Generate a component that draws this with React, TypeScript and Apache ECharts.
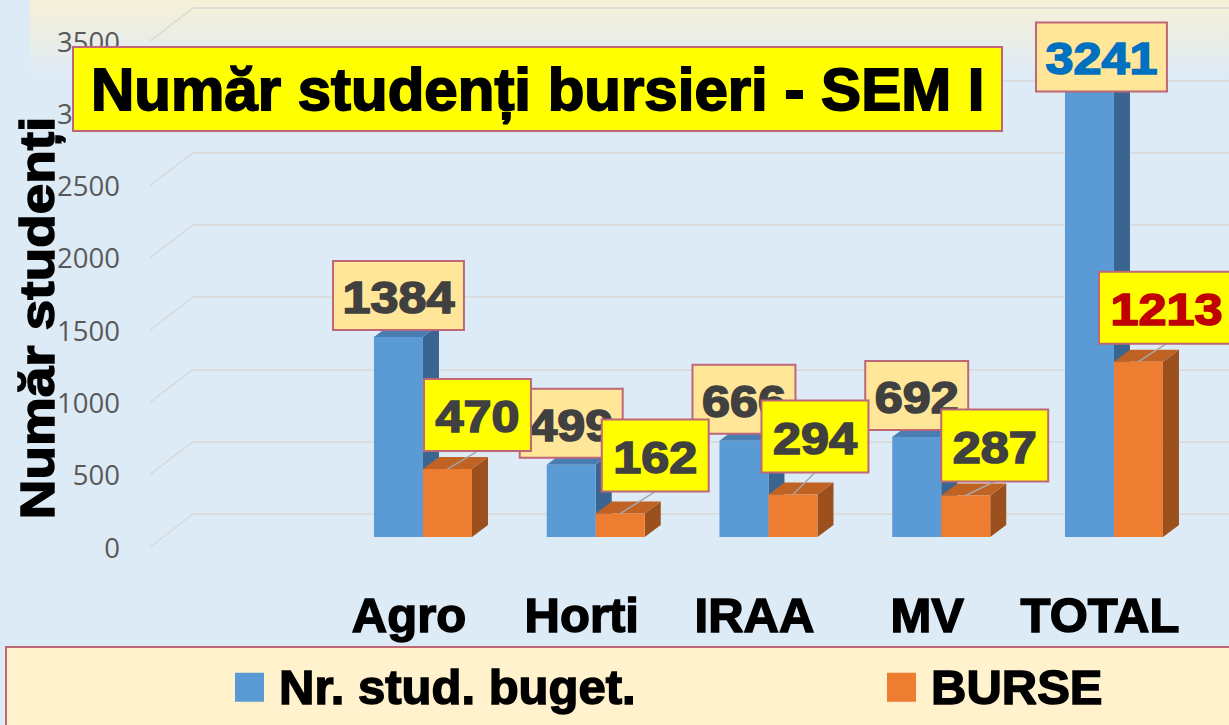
import React, { useEffect, useRef } from 'react';
import * as echarts from 'echarts';

// ---------- data ----------
const categories = ['Agro', 'Horti', 'IRAA', 'MV', 'TOTAL'];
const budgetStudents = [1384, 499, 666, 692, 3241];
const scholarships = [470, 162, 294, 287, 1213];
const yTicks = [0, 500, 1000, 1500, 2000, 2500, 3000, 3500];
const seriesNames = ['Nr. stud. buget.', 'BURSE'];
const chartTitle = 'Număr studenți bursieri - SEM I';
const yTitle = 'Număr studenți';

// ---------- label layout (manual nudges in px, like the dragged Excel labels) ----------
const budgetLabelShift = [[0, 0], [0, 0], [0, 0], [0, 0], [12, 30]];
const burseLabelShift = [[30, 0], [35, -4], [22, -4], [29, 4], [28, 0]];
const budgetLabelColor = ['#404040', '#404040', '#404040', '#404040', '#0070C0'];
const burseLabelColor = ['#404040', '#404040', '#404040', '#404040', '#C00000'];

const FONT = "'Liberation Sans', Arial, Helvetica, sans-serif";
const BW = 49; // bar width
const DX = 16; // depth x
const DY = 12; // depth y
const LABEL_FS = 44;
const LABEL_SX = 1.144;
const DIGIT_W = 0.556 * LABEL_FS * LABEL_SX;
const BORDER = '#BE6777';

function barRenderer(dir: number, colors: { front: string; top: string; side: string }) {
  return (params: any, api: any) => {
    const i = api.value(0);
    const v = api.value(1);
    const top = api.coord([i, v]);
    const base = api.coord([i, 0]);
    const x0 = dir < 0 ? top[0] - BW : top[0];
    const x1 = x0 + BW;
    const yt = top[1];
    const yb = base[1];
    return {
      type: 'group',
      children: [
        {
          type: 'polygon',
          shape: { points: [[x1, yt], [x1 + DX, yt - DY], [x1 + DX, yb - DY], [x1, yb]] },
          style: { fill: colors.side },
        },
        {
          type: 'polygon',
          shape: { points: [[x0, yt], [x1, yt], [x1 + DX, yt - DY], [x0 + DX, yt - DY]] },
          style: { fill: colors.top },
        },
        {
          type: 'rect',
          shape: { x: x0, y: yt, width: BW, height: yb - yt },
          style: { fill: colors.front },
        },
      ],
    };
  };
}

function labelRenderer(
  dir: number,
  cfg: { shift: number[][]; colors: string[]; fill: string; padX: number; h: number; gap: number; leader: boolean }
) {
  return (params: any, api: any) => {
    const idx = params.dataIndex;
    const i = api.value(0);
    const v = api.value(1);
    const top = api.coord([i, v]);
    const cx0 = top[0] + (dir * BW) / 2;
    const sx = cfg.shift[idx][0];
    const sy = cfg.shift[idx][1];
    const text = String(v);
    const w = text.length * DIGIT_W + cfg.padX * 2;
    const h = cfg.h;
    const cx = cx0 + sx;
    const bottom = top[1] - cfg.gap + sy;
    const children: any[] = [];
    if (cfg.leader) {
      children.push({
        type: 'line',
        shape: { x1: cx0, y1: top[1], x2: cx, y2: bottom },
        style: { stroke: '#A6A6A6', lineWidth: 1.5 },
      });
    }
    children.push({
      type: 'rect',
      shape: { x: cx - w / 2, y: bottom - h, width: w, height: h },
      style: { fill: cfg.fill, stroke: BORDER, lineWidth: 2 },
    });
    children.push({
      type: 'text',
      x: cx,
      y: bottom - h / 2 + 2,
      scaleX: LABEL_SX,
      style: {
        text,
        fontSize: LABEL_FS,
        fontWeight: 'bold',
        fontFamily: FONT,
        fill: cfg.colors[idx],
        stroke: cfg.colors[idx],
        lineWidth: 1.6,
        align: 'center',
        verticalAlign: 'middle',
        textAlign: 'center',
        textVerticalAlign: 'middle',
      },
    });
    return { type: 'group', children };
  };
}

const legendCommon = {
  top: 662,
  padding: 0,
  itemWidth: 29,
  itemHeight: 29,
  icon: 'rect',
  selectedMode: false,
  textStyle: {
    fontSize: 49,
    fontWeight: 'bold',
    color: '#000',
    fontFamily: FONT,
    lineHeight: 49,
    padding: [0, 0, 0, 10],
    textBorderColor: '#000',
    textBorderWidth: 1.5,
  },
};

const option: any = {
  animation: false,
  backgroundColor: '#DDEBF7',
  title: {
    text: chartTitle,
    left: 74,
    top: 48,
    padding: [11, 17],
    backgroundColor: '#FFFF00',
    borderColor: BORDER,
    borderWidth: 2,
    textStyle: {
      fontSize: 60,
      fontWeight: 'bold',
      color: '#000',
      fontFamily: FONT,
      lineHeight: 60,
      textBorderColor: '#000',
      textBorderWidth: 1.8,
    },
  },
  legend: [
    { ...legendCommon, data: [seriesNames[0]], left: 235 },
    { ...legendCommon, data: [seriesNames[1]], left: 887 },
  ],
  graphic: [
    {
      type: 'rect',
      z: -10,
      silent: true,
      shape: { x: 30, y: 0, width: 1199, height: 78 },
      style: {
        fill: new echarts.graphic.LinearGradient(0, 0, 0, 1, [
          { offset: 0, color: 'rgba(255,242,204,0.75)' },
          { offset: 1, color: 'rgba(255,242,204,0)' },
        ]),
      },
    },
    {
      type: 'rect',
      z: 1,
      silent: true,
      shape: { x: 6, y: 647, width: 1240, height: 100 },
      style: { fill: '#FFF2CC', stroke: BORDER, lineWidth: 2 },
    },
    {
      type: 'text',
      z: 10,
      x: 37,
      y: 318,
      rotation: Math.PI / 2,
      scaleX: 1.12,
      style: {
        text: yTitle,
        fontSize: 49,
        fontWeight: 'bold',
        fontFamily: FONT,
        fill: '#000',
        stroke: '#000',
        lineWidth: 1.5,
        align: 'center',
        verticalAlign: 'middle',
        textAlign: 'center',
        textVerticalAlign: 'middle',
      },
    },
  ],
  grid: [
    { left: 336.6, top: 31, width: 863.75, height: 506 }, // bars (front faces)
    { left: 193, top: 8, right: 0, height: 506 }, // back wall
    { left: 322.6, top: 41, width: 863.75, height: 506 }, // category labels
    { left: 128, top: 41, right: 0, height: 506 }, // value labels
  ],
  xAxis: [
    { type: 'category', gridIndex: 0, data: categories, show: false },
    { type: 'value', gridIndex: 1, min: 0, max: 1, show: false },
    {
      type: 'category',
      gridIndex: 2,
      data: categories,
      axisLine: { show: false },
      axisTick: { show: false },
      splitLine: { show: false },
      axisLabel: {
        interval: 0,
        margin: 68,
        fontSize: 49,
        fontWeight: 'bold',
        color: '#000',
        fontFamily: FONT,
        verticalAlign: 'middle',
        lineHeight: 49,
        textBorderColor: '#000',
        textBorderWidth: 1.5,
      },
    },
    { type: 'value', gridIndex: 3, min: 0, max: 1, show: false },
  ],
  yAxis: [
    { type: 'value', gridIndex: 0, min: 0, max: 3500, interval: 500, show: false },
    {
      type: 'value',
      gridIndex: 1,
      min: 0,
      max: 3500,
      interval: 500,
      axisLine: { show: false },
      axisTick: { show: false },
      axisLabel: { show: false },
      splitLine: { show: true, lineStyle: { color: '#D9D9D9', width: 1.5 } },
    },
    { type: 'value', gridIndex: 2, min: 0, max: 3500, interval: 500, show: false },
    {
      type: 'value',
      gridIndex: 3,
      min: 0,
      max: 3500,
      interval: 500,
      axisLine: { show: false },
      axisTick: { show: false },
      splitLine: { show: false },
      axisLabel: {
        margin: 8,
        fontSize: 27.5,
        color: '#595959',
        fontFamily: "'Open Sans', sans-serif",
        formatter: (v: number) => String(v),
      },
    },
  ],
  series: [
    {
      type: 'custom',
      name: 'grid-diagonals',
      xAxisIndex: 1,
      yAxisIndex: 1,
      silent: true,
      z: 1,
      data: yTicks.map((v) => [0, v]),
      encode: { x: 0, y: 1 },
      renderItem: (params: any, api: any) => {
        const p = api.coord([0, api.value(1)]);
        return {
          type: 'line',
          shape: { x1: p[0] - 43, y1: p[1] + 33, x2: p[0], y2: p[1] },
          style: { stroke: '#D9D9D9', lineWidth: 1.5 },
        };
      },
    },
    {
      type: 'custom',
      name: seriesNames[0],
      xAxisIndex: 0,
      yAxisIndex: 0,
      z: 2,
      itemStyle: { color: '#5B9BD5' },
      data: budgetStudents.map((v, i) => [i, v]),
      encode: { x: 0, y: 1 },
      renderItem: barRenderer(-1, { front: '#5B9BD5', top: '#4A7DB1', side: '#3A6590' }),
    },
    {
      type: 'custom',
      name: seriesNames[1],
      xAxisIndex: 0,
      yAxisIndex: 0,
      z: 3,
      itemStyle: { color: '#ED7D31' },
      data: scholarships.map((v, i) => [i, v]),
      encode: { x: 0, y: 1 },
      renderItem: barRenderer(1, { front: '#ED7D31', top: '#BF6224', side: '#9C501D' }),
    },
    {
      type: 'custom',
      name: 'budget-labels',
      xAxisIndex: 0,
      yAxisIndex: 0,
      z: 4,
      silent: true,
      data: budgetStudents.map((v, i) => [i, v]),
      encode: { x: 0, y: 1 },
      renderItem: labelRenderer(-1, {
        shift: budgetLabelShift,
        colors: budgetLabelColor,
        fill: '#FFE699',
        padX: 9.5,
        h: 69,
        gap: 7,
        leader: false,
      }),
    },
    {
      type: 'custom',
      name: 'burse-labels',
      xAxisIndex: 0,
      yAxisIndex: 0,
      z: 5,
      silent: true,
      data: scholarships.map((v, i) => [i, v]),
      encode: { x: 0, y: 1 },
      renderItem: labelRenderer(1, {
        shift: burseLabelShift,
        colors: burseLabelColor,
        fill: '#FFFF00',
        padX: 11.5,
        h: 72,
        gap: 18,
        leader: true,
      }),
    },
  ],
};

export default function App() {
  const ref = useRef<HTMLDivElement>(null);
  useEffect(() => {
    const chart = echarts.init(ref.current as HTMLDivElement, null, { renderer: 'svg' });
    chart.setOption(option);
    return () => chart.dispose();
  }, []);
  return <div ref={ref} style={{ position: 'fixed', left: 0, top: 0, width: 1229, height: 725 }} />;
}
